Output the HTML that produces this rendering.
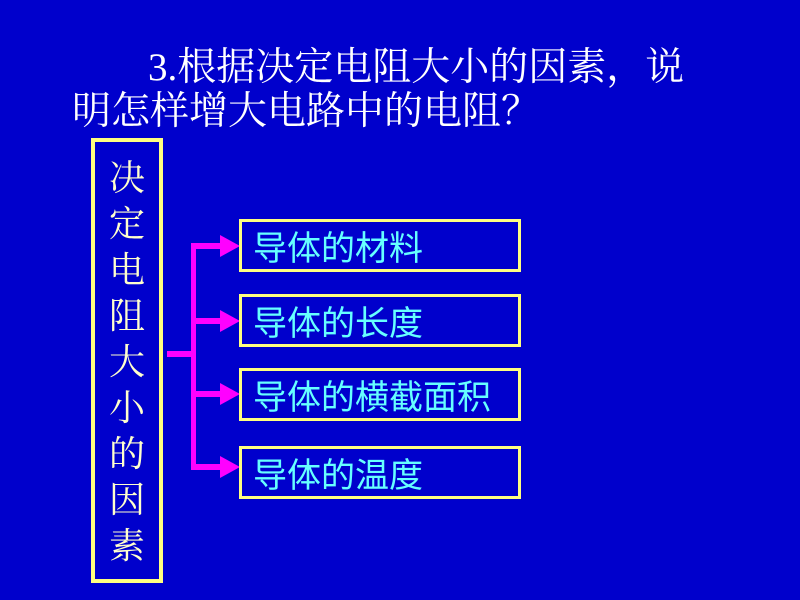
<!DOCTYPE html>
<html><head><meta charset="utf-8"><style>
body{margin:0;width:800px;height:600px;background:#0000CC;overflow:hidden;position:relative}
.t{position:absolute;color:#fff;font-family:"Liberation Serif","Noto Serif CJK SC",serif;font-size:39px;white-space:nowrap;line-height:1}
.lb{position:absolute;left:91px;top:138px;width:64px;height:437px;border:4px solid #FFFF80}
.ch{position:absolute;left:0;width:64px;text-align:center;color:#FFFFCC;font-family:"Noto Serif CJK SC",serif;font-size:36px;line-height:1}
.bx{position:absolute;left:239px;height:47px;border:3px solid #FFFF80;color:#66FFFF;font-family:"Noto Sans CJK SC",sans-serif;font-size:34px;line-height:47px;padding-left:11px;box-sizing:content-box;white-space:nowrap}
</style></head><body>
<div class="t" style="left:148px;top:48px">3.根据决定电阻大小的因素，说</div>
<div class="t" style="left:72px;top:92px">明怎样增大电路中的电阻？</div>
<div class="lb">
<div class="ch" style="top:16px">决</div>
<div class="ch" style="top:62px">定</div>
<div class="ch" style="top:108px">电</div>
<div class="ch" style="top:154px">阻</div>
<div class="ch" style="top:200px">大</div>
<div class="ch" style="top:246px">小</div>
<div class="ch" style="top:292px">的</div>
<div class="ch" style="top:338px">因</div>
<div class="ch" style="top:384px">素</div>
</div>
<svg width="800" height="600" style="position:absolute;left:0;top:0">
<g fill="#FF00FF">
<rect x="167" y="351" width="28" height="6"/>
<rect x="191" y="243" width="5" height="227"/>
<rect x="191" y="243" width="30" height="6"/><polygon points="220,235 240,246 220,257"/>
<rect x="191" y="318" width="30" height="6"/><polygon points="220,310 240,321 220,332"/>
<rect x="191" y="391" width="30" height="6"/><polygon points="220,383 240,394 220,405"/>
<rect x="191" y="464" width="30" height="6"/><polygon points="220,456 240,467 220,478"/>
</g></svg>
<div class="bx" style="top:219px;width:265px">导体的材料</div>
<div class="bx" style="top:294px;width:265px">导体的长度</div>
<div class="bx" style="top:368px;width:265px">导体的横截面积</div>
<div class="bx" style="top:446px;width:265px">导体的温度</div>
</body></html>
